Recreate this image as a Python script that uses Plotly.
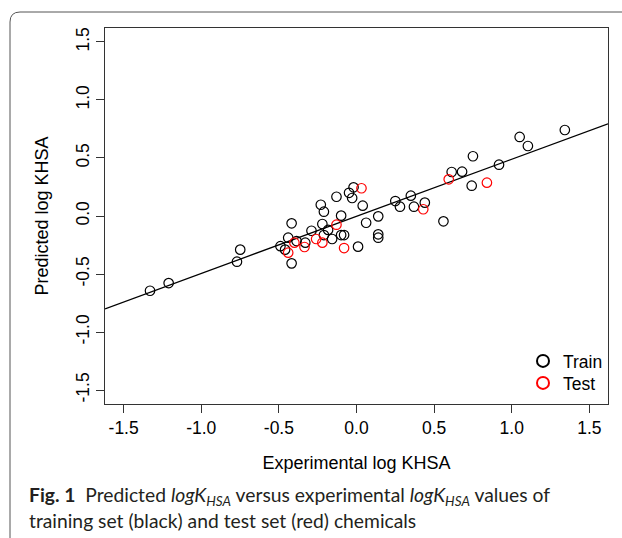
import plotly.graph_objects as go

# ---- data ----
train_x = [-1.33, -1.21, -0.77, -0.749, -0.418, -0.44, -0.49, -0.46, -0.418, -0.386,
           -0.33, -0.29, -0.22, -0.23, -0.21, -0.21, -0.183, -0.157, -0.129, -0.099,
           -0.099, -0.08, -0.048, -0.028, -0.019, 0.04, 0.01, 0.062, 0.14, 0.14,
           0.14, 0.25, 0.28, 0.35, 0.37, 0.44, 0.56, 0.613, 0.68, 0.742,
           0.75, 0.918, 1.051, 1.104, 1.342]
train_y = [-0.644, -0.578, -0.394, -0.29, -0.063, -0.187, -0.26, -0.29, -0.408, -0.216,
           -0.23, -0.127, -0.069, 0.097, 0.037, -0.164, -0.12, -0.198, 0.166, 0.003,
           -0.164, -0.164, 0.2, 0.155, 0.247, 0.089, -0.264, -0.058, -0.003, -0.158,
           -0.187, 0.129, 0.08, 0.175, 0.08, 0.115, -0.046, 0.379, 0.382, 0.261,
           0.515, 0.442, 0.681, 0.603, 0.741]
test_x = [-0.44, -0.40, -0.335, -0.26, -0.22, -0.129, -0.08, 0.032, 0.43, 0.594, 0.84]
test_y = [-0.316, -0.23, -0.267, -0.198, -0.23, -0.075, -0.276, 0.239, 0.058, 0.316, 0.287]

fit_intercept = -0.003
fit_slope = 0.492

tick_vals = [-1.5, -1.0, -0.5, 0.0, 0.5, 1.0, 1.5]
tick_text = ["-1.5", "-1.0", "-0.5", "0.0", "0.5", "1.0", "1.5"]
axis_range = [-1.62, 1.62]

x_title = "Experimental log KHSA"
y_title = "Predicted log KHSA"
caption_1 = ("<b>Fig. 1</b>  Predicted <i>logK<sub>HSA</sub></i> versus experimental "
             "<i>logK<sub>HSA</sub></i> values of")
caption_2 = "training set (black) and test set (red) chemicals"

# ---- layout geometry in pixels ----
W, H = 622, 538
L, R, T, B = 105, 608, 28, 404


def px(xp):
    return (xp - L) / (R - L)


def py(yp):
    return (B - yp) / (B - T)


FONT = "Liberation Sans, Arial, Helvetica, sans-serif"
FS = 17.5

fig = go.Figure()

# regression line across the full plot range
line_x = axis_range
line_y = [fit_intercept + fit_slope * v for v in line_x]
fig.add_trace(go.Scatter(x=line_x, y=line_y, mode="lines",
                         line=dict(color="black", width=1.3),
                         showlegend=False, hoverinfo="skip"))

fig.add_trace(go.Scatter(x=train_x, y=train_y, mode="markers", name="Train",
                         legend="legend",
                         marker=dict(symbol="circle-open", size=9.5, color="black",
                                     line=dict(width=1.2, color="black"))))
fig.add_trace(go.Scatter(x=test_x, y=test_y, mode="markers", name="Test",
                         legend="legend2",
                         marker=dict(symbol="circle-open", size=9.5, color="#ff0000",
                                     line=dict(width=1.2, color="#ff0000"))))

axis_common = dict(range=axis_range, tickvals=tick_vals, ticktext=tick_text,
                   showgrid=False, zeroline=False, showline=True, mirror=True,
                   linecolor="#333333", linewidth=1, ticks="outside", ticklen=8,
                   tickcolor="#333333", tickwidth=1,
                   tickfont=dict(family=FONT, size=FS, color="black"))

legend_common = dict(xanchor="left", yanchor="middle", bgcolor="rgba(0,0,0,0)",
                     borderwidth=0, font=dict(family=FONT, size=FS, color="black"),
                     itemsizing="constant")

fig.update_layout(
    width=W, height=H,
    margin=dict(l=L, r=W - R, t=T, b=H - B, pad=0),
    paper_bgcolor="white", plot_bgcolor="white",
    xaxis=dict(**axis_common,
               title=dict(text=x_title, font=dict(family=FONT, size=18, color="black"),
                          standoff=19)),
    yaxis=dict(**axis_common, tickangle=-90,
               title=dict(text=y_title, font=dict(family=FONT, size=18, color="black"),
                          standoff=19)),
    legend=dict(x=px(523), y=py(361), **legend_common),
    legend2=dict(x=px(523), y=py(383), **legend_common),
    showlegend=True,
)

# outer rounded frame of the figure panel
r = 10
path = (f"M {px(10)},{py(560)} L {px(10)},{py(12 + r)} "
        f"Q {px(10)},{py(12)} {px(10 + r)},{py(12)} L {px(660)},{py(12)}")
fig.add_shape(type="path", path=path, xref="paper", yref="paper",
              line=dict(color="#555555", width=1))

# caption
CAP_FONT = "Lato, Open Sans, sans-serif"
fig.add_annotation(text=caption_1, xref="paper", yref="paper",
                   x=px(27), y=py(496), xanchor="left", yanchor="middle",
                   showarrow=False, font=dict(family=CAP_FONT, size=19.3, color="#231f20"))
fig.add_annotation(text=caption_2, xref="paper", yref="paper",
                   x=px(27), y=py(520), xanchor="left", yanchor="middle",
                   showarrow=False, font=dict(family=CAP_FONT, size=19.3, color="#231f20"))

fig.write_html("out.html", config={"displayModeBar": False},
               post_script="document.body.style.margin='0';"
                           "document.body.style.overflow='hidden';")
